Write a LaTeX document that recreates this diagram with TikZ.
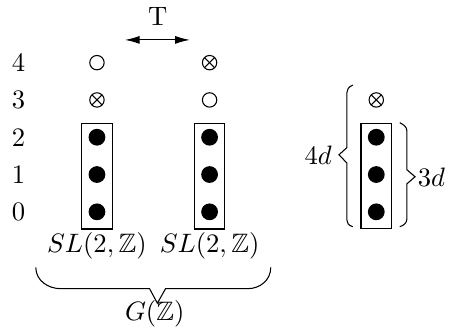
\documentclass[tikz,border=0pt]{standalone}
\usepackage{amssymb}
\usetikzlibrary{arrows.meta}

\begin{document}
\begin{tikzpicture}[x=14pt,y=14pt,
    dot/.style={circle,fill,inner sep=0pt,minimum size=6.3pt},
    hole/.style={circle,draw,inner sep=0pt,minimum size=5.4pt},
    crossed/.style={hole,path picture={
        \draw (path picture bounding box.north west) -- (path picture bounding box.south east);
        \draw (path picture bounding box.north east) -- (path picture bounding box.south west);}},
    column/.style={draw,inner sep=0pt,minimum width=11.5pt,minimum height=39.5pt}]
    \useasboundingbox (-2.6,-3.14) rectangle (9.44,5.68);

%levels
    \node (n0) at (-2.1,0) {0};
    \node (n1) at (-2.1,1) {1};
    \node (n2) at (-2.1,2) {2};
    \node (n3) at (-2.1,3) {3};
    \node (n4) at (-2.1,4) {4};

%left column
    \node[column] (lbox) at (0,0.95) {};
    \node[dot] (l0) at (0,0) {};
    \node[dot] (l1) at (0,1) {};
    \node[dot] (l2) at (0,2) {};
    \node[crossed] (l3) at (0,3) {};
    \node[hole] (l4) at (0,4) {};
    \node (lsl) at (0,-0.91) {$SL(2,\mathbb{Z})$};

%right column
    \node[column] (rbox) at (3.02,0.95) {};
    \node[dot] (r0) at (3.02,0) {};
    \node[dot] (r1) at (3.02,1) {};
    \node[dot] (r2) at (3.02,2) {};
    \node[hole] (r3) at (3.02,3) {};
    \node[crossed] (r4) at (3.02,4) {};
    \node (rsl) at (3.02,-0.91) {$SL(2,\mathbb{Z})$};

%swap
    \coordinate (tl) at (0.75,4.61);
    \coordinate (tr) at (2.49,4.61);
    \draw [{Latex[length=5.5pt,width=3pt]}-{Latex[length=5.5pt,width=3pt]}] (tl) -- (tr);
    \node (swap) at (1.63,5.24) {T};

%group
    \coordinate (gl) at (-1.64,-1.49);
    \coordinate (gr) at (4.66,-1.49);
    \coordinate (gtip) at (1.62,-2.45);
    \draw (gl) .. controls (-1.64,-1.85) and (-1.3,-2.06) .. (-0.98,-2.06)
        -- (1.41,-2.06) -- (gtip) -- (1.84,-2.06) -- (4.05,-2.06)
        .. controls (4.35,-2.06) and (4.66,-1.85) .. (gr);
    \node (grp) at (1.55,-2.74) {$G(\mathbb{Z})$};

%single column
    \node[column] (sbox) at (7.49,0.97) {};
    \node[dot] (s0) at (7.49,0) {};
    \node[dot] (s1) at (7.49,1) {};
    \node[dot] (s2) at (7.49,2) {};
    \node[crossed] (s3) at (7.49,3) {};

%4d
    \coordinate (ft) at (6.86,3.40);
    \coordinate (fb) at (6.86,-0.40);
    \coordinate (ftip) at (6.49,1.53);
    \draw (ft) .. controls (6.74,3.34) and (6.70,3.28) .. (6.70,3.19) -- (6.70,1.72)
        -- (ftip) -- (6.70,1.31) -- (6.70,-0.21)
        .. controls (6.70,-0.30) and (6.74,-0.36) .. (fb);
    \node (four) at (5.93,1.53) {$4d$};

%3d
    \coordinate (tt) at (8.12,2.39);
    \coordinate (tb) at (8.12,-0.40);
    \coordinate (ttip) at (8.53,0.94);
    \draw (tt) .. controls (8.24,2.33) and (8.31,2.27) .. (8.31,2.17) -- (8.31,1.13)
        -- (ttip) -- (8.31,0.75) -- (8.31,-0.19)
        .. controls (8.31,-0.29) and (8.24,-0.36) .. (tb);
    \node (three) at (8.97,0.94) {$3d$};

\end{tikzpicture}
\end{document}
